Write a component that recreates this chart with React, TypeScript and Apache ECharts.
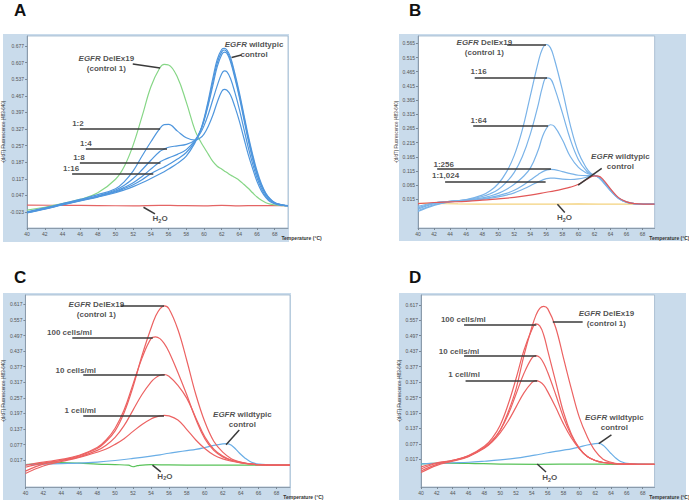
import React, { useEffect, useRef } from 'react';
import * as echarts from 'echarts';

// ---------- tick labels ----------
const xTicks = [40, 42, 44, 46, 48, 50, 52, 54, 56, 58, 60, 62, 64, 66, 68];
const yTicksA = [-0.023, 0.047, 0.117, 0.187, 0.257, 0.327, 0.397, 0.467, 0.537, 0.607, 0.677];
const yTicksB = [0.015, 0.065, 0.115, 0.165, 0.215, 0.265, 0.315, 0.365, 0.415, 0.465, 0.515, 0.565];
const yTicksCD = [0.017, 0.077, 0.137, 0.197, 0.257, 0.317, 0.377, 0.437, 0.497, 0.557, 0.617];

// ---------- panel A ----------
const tempsA = [40, 42, 44, 46, 48, 50, 51, 52, 53, 54, 55, 55.5, 56, 57, 58, 59, 59.6, 60, 60.5, 61, 61.5, 62, 62.3, 62.6, 63, 63.5, 64, 64.5, 65, 65.5, 66, 66.5, 67, 67.5, 68, 68.5, 69, 69.5];
const delExA = [-0.015, -0.003, 0.012, 0.03, 0.058, 0.115, 0.17, 0.26, 0.38, 0.505, 0.584, 0.599, 0.597, 0.545, 0.44, 0.32, 0.275, 0.25, 0.22, 0.19, 0.17, 0.158, 0.15, 0.143, 0.133, 0.122, 0.11, 0.094, 0.077, 0.058, 0.04, 0.026, 0.016, 0.01, 0.007, 0.005, 0.004, 0.004];
const dil2A = [-0.022, -0.006, 0.012, 0.03, 0.05, 0.075, 0.105, 0.15, 0.213, 0.273, 0.328, 0.345, 0.346, 0.318, 0.29, 0.28, 0.29, 0.305, 0.34, 0.385, 0.44, 0.485, 0.494, 0.49, 0.47, 0.42, 0.36, 0.29, 0.22, 0.16, 0.105, 0.065, 0.038, 0.02, 0.012, 0.007, 0.005, 0.004];
const dil4A = [-0.024, -0.008, 0.01, 0.027, 0.045, 0.07, 0.09, 0.118, 0.155, 0.195, 0.232, 0.242, 0.25, 0.256, 0.262, 0.28, 0.31, 0.34, 0.39, 0.45, 0.51, 0.56, 0.572, 0.568, 0.54, 0.48, 0.41, 0.33, 0.25, 0.18, 0.12, 0.075, 0.043, 0.024, 0.013, 0.008, 0.005, 0.004];
const dil8A = [-0.025, -0.009, 0.009, 0.026, 0.043, 0.065, 0.081, 0.1, 0.127, 0.158, 0.188, 0.197, 0.205, 0.22, 0.24, 0.28, 0.32, 0.36, 0.43, 0.51, 0.59, 0.64, 0.651, 0.645, 0.61, 0.54, 0.46, 0.37, 0.28, 0.2, 0.135, 0.085, 0.05, 0.028, 0.015, 0.009, 0.005, 0.004];
const dil16A = [-0.026, -0.01, 0.008, 0.025, 0.042, 0.062, 0.076, 0.092, 0.113, 0.138, 0.158, 0.167, 0.177, 0.2, 0.228, 0.275, 0.32, 0.365, 0.44, 0.525, 0.605, 0.652, 0.66, 0.652, 0.62, 0.55, 0.47, 0.38, 0.29, 0.21, 0.14, 0.09, 0.053, 0.03, 0.016, 0.009, 0.005, 0.004];
const wildA = [-0.027, -0.011, 0.007, 0.024, 0.04, 0.058, 0.07, 0.084, 0.1, 0.118, 0.137, 0.147, 0.158, 0.182, 0.213, 0.27, 0.32, 0.37, 0.45, 0.54, 0.62, 0.662, 0.667, 0.66, 0.63, 0.56, 0.48, 0.39, 0.3, 0.22, 0.15, 0.095, 0.056, 0.032, 0.017, 0.01, 0.006, 0.004];
const tempsH2oA = [40, 44, 48, 52, 55, 57, 60, 62, 64, 66, 69.5];
const h2oA = [0.006, 0.005, 0.004, 0.003, 0.005, 0.004, 0.003, 0.005, 0.003, 0.004, 0.004];

// ---------- panel B ----------
const tempsB = [40, 42, 44, 46, 48, 49, 50, 51, 52, 53, 54, 55, 55.5, 56, 56.5, 57, 58, 59, 60, 61, 61.5, 62, 62.5, 63, 64, 65, 66, 67, 68, 69.5];
const delExB = [-0.02, 0.0, 0.008, 0.014, 0.03, 0.045, 0.07, 0.11, 0.17, 0.26, 0.38, 0.5, 0.545, 0.561, 0.55, 0.51, 0.4, 0.275, 0.18, 0.125, 0.108, 0.1, 0.092, 0.078, 0.045, 0.018, 0.004, -0.001, -0.002, -0.002];
const dil16B = [-0.01, 0.003, 0.008, 0.013, 0.025, 0.035, 0.05, 0.075, 0.11, 0.165, 0.245, 0.35, 0.41, 0.443, 0.44, 0.41, 0.32, 0.225, 0.155, 0.115, 0.105, 0.1, 0.093, 0.08, 0.047, 0.019, 0.005, 0.0, -0.002, -0.002];
const dil64B = [-0.015, 0.002, 0.008, 0.012, 0.02, 0.027, 0.036, 0.05, 0.068, 0.092, 0.125, 0.19, 0.235, 0.265, 0.278, 0.272, 0.225, 0.165, 0.128, 0.108, 0.103, 0.1, 0.094, 0.082, 0.048, 0.019, 0.005, 0.0, -0.002, -0.002];
const dil256B = [-0.025, -0.004, 0.007, 0.011, 0.017, 0.022, 0.028, 0.036, 0.047, 0.063, 0.083, 0.103, 0.112, 0.118, 0.121, 0.12, 0.113, 0.106, 0.1, 0.099, 0.099, 0.099, 0.094, 0.082, 0.048, 0.019, 0.005, 0.0, -0.002, -0.002];
const dil1024B = [-0.028, -0.006, 0.006, 0.01, 0.015, 0.019, 0.024, 0.03, 0.038, 0.05, 0.063, 0.077, 0.083, 0.088, 0.09, 0.09, 0.086, 0.085, 0.087, 0.093, 0.097, 0.099, 0.095, 0.083, 0.049, 0.02, 0.006, 0.0, -0.002, -0.002];
const tempsWildB = [40, 42, 44, 46, 48, 50, 52, 54, 56, 57, 58, 59, 60, 61, 62, 62.5, 63, 64, 65, 66, 67, 69.5];
const wildB = [0.0, 0.004, 0.006, 0.008, 0.012, 0.017, 0.022, 0.03, 0.04, 0.045, 0.051, 0.058, 0.068, 0.085, 0.098, 0.097, 0.087, 0.052, 0.021, 0.006, 0.0, -0.002];
const tempsH2oB = [40, 45, 50, 55, 60, 65, 69.5];
const h2oB = [0.001, -0.001, -0.002, -0.002, -0.001, -0.002, -0.002];

// ---------- panel C ----------
const tempsC = [40, 42, 44, 46, 48, 49, 50, 51, 52, 53, 54, 54.5, 55, 55.5, 56, 57, 58, 59, 60, 61, 62, 63, 64, 65, 66, 68, 69.5];
const delExC = [-0.01, 0.006, 0.017, 0.034, 0.062, 0.09, 0.13, 0.2, 0.3, 0.42, 0.525, 0.57, 0.6, 0.611, 0.6, 0.52, 0.4, 0.27, 0.165, 0.09, 0.048, 0.022, 0.01, 0.003, 0.0, -0.002, -0.002];
const cells100C = [-0.002, 0.01, 0.02, 0.036, 0.066, 0.095, 0.14, 0.21, 0.31, 0.41, 0.485, 0.492, 0.485, 0.465, 0.435, 0.355, 0.268, 0.175, 0.1, 0.055, 0.03, 0.016, 0.008, 0.003, 0.0, -0.002, -0.002];
const cells10C = [-0.025, 0.002, 0.015, 0.03, 0.055, 0.075, 0.105, 0.15, 0.21, 0.27, 0.318, 0.334, 0.344, 0.347, 0.34, 0.305, 0.255, 0.18, 0.107, 0.06, 0.033, 0.017, 0.009, 0.003, 0.0, -0.002, -0.002];
const cells1C = [-0.034, -0.005, 0.012, 0.028, 0.048, 0.06, 0.078, 0.1, 0.128, 0.155, 0.176, 0.183, 0.188, 0.19, 0.188, 0.172, 0.135, 0.095, 0.062, 0.037, 0.022, 0.013, 0.007, 0.003, 0.0, -0.002, -0.002];
const tempsWildCD = [40, 42, 44, 46, 48, 50, 52, 54, 55, 56, 57, 58, 59, 60, 61, 62, 62.5, 63, 63.5, 64, 64.5, 65, 65.5, 66, 67, 69.5];
const wildC = [0.0, 0.002, 0.004, 0.006, 0.01, 0.016, 0.024, 0.033, 0.038, 0.044, 0.049, 0.054, 0.059, 0.066, 0.074, 0.08, 0.081, 0.074, 0.058, 0.04, 0.025, 0.013, 0.006, 0.002, 0.0, -0.002];
const tempsH2oC = [40, 44, 46, 48, 50, 51.5, 52, 52.5, 54, 56, 60, 65, 69.5];
const h2oC = [0.0, 0.008, 0.006, 0.002, 0.0, -0.002, -0.008, -0.004, 0.0, -0.001, -0.002, -0.002, -0.002];

// ---------- panel D ----------
const tempsD = [40, 42, 44, 46, 48, 49, 50, 51, 52, 53, 54, 54.5, 55, 55.5, 56, 57, 58, 59, 60, 61, 62, 63, 64, 65, 66, 68, 69.5];
const delExD = [-0.012, 0.004, 0.013, 0.03, 0.063, 0.09, 0.13, 0.2, 0.29, 0.42, 0.53, 0.575, 0.603, 0.611, 0.602, 0.53, 0.41, 0.29, 0.18, 0.105, 0.05, 0.018, 0.006, 0.0, -0.001, -0.002, -0.002];
const cells100D = [-0.02, 0.002, 0.013, 0.032, 0.068, 0.1, 0.15, 0.23, 0.33, 0.44, 0.52, 0.543, 0.535, 0.5, 0.44, 0.32, 0.2, 0.115, 0.06, 0.028, 0.013, 0.005, 0.002, 0.0, -0.001, -0.002, -0.002];
const cells10D = [-0.028, -0.002, 0.012, 0.03, 0.063, 0.09, 0.13, 0.19, 0.27, 0.35, 0.41, 0.42, 0.413, 0.39, 0.355, 0.27, 0.18, 0.11, 0.06, 0.028, 0.013, 0.005, 0.002, 0.0, -0.001, -0.002, -0.002];
const cells1D = [-0.034, -0.006, 0.01, 0.028, 0.06, 0.085, 0.12, 0.165, 0.22, 0.275, 0.315, 0.323, 0.318, 0.305, 0.28, 0.22, 0.155, 0.1, 0.058, 0.028, 0.013, 0.005, 0.002, 0.0, -0.001, -0.002, -0.002];
const wildD = [0.0, 0.002, 0.004, 0.006, 0.01, 0.015, 0.022, 0.032, 0.037, 0.043, 0.048, 0.053, 0.058, 0.065, 0.073, 0.078, 0.079, 0.072, 0.057, 0.04, 0.025, 0.013, 0.006, 0.002, 0.0, -0.002];
const tempsH2oD = [40, 43, 46, 50, 55, 60, 65, 69.5];
const h2oD = [0.0, 0.003, 0.002, -0.001, -0.002, -0.001, -0.002, -0.002];

// ---------- annotations (text anchors and leader lines, in data units) ----------
const DEL = '{i|EGFR} DelEx19\n(control 1)';
const WT = '{i|EGFR} wildtypic\ncontrol';
const H2O = 'H{s|2}O';

const labelsA = [
  { text: DEL, at: [48.96, 0.601] },
  { text: WT, at: [65.66, 0.66] },
  { text: '1:2', at: [45.75, 0.352] },
  { text: '1:4', at: [46.64, 0.266] },
  { text: '1:8', at: [45.86, 0.207] },
  { text: '1:16', at: [44.98, 0.16] },
  { text: H2O, at: [55.04, -0.0525] },
];
const leadersA = [
  [[51.95, 0.601], [55.04, 0.584]],
  [[63.12, 0.628], [64.23, 0.639]],
  [[45.97, 0.328], [55.04, 0.328]],
  [[46.64, 0.244], [55.82, 0.244]],
  [[45.97, 0.186], [55.08, 0.186]],
  [[45.09, 0.139], [54.27, 0.139]],
  [[53.16, -0.003], [54.46, -0.031]],
];
const labelsB = [
  { text: DEL, at: [48.27, 0.552] },
  { text: '1:16', at: [47.55, 0.465] },
  { text: '1:64', at: [47.55, 0.294] },
  { text: '1:256', at: [43.2, 0.139] },
  { text: '1:1,024', at: [43.43, 0.098] },
  { text: WT, at: [65.23, 0.147] },
  { text: H2O, at: [58.27, -0.049] },
];
const leadersB = [
  [[51.12, 0.559], [55.95, 0.559]],
  [[47.07, 0.445], [56.09, 0.445]],
  [[46.88, 0.275], [56.2, 0.275]],
  [[42.39, 0.122], [56.57, 0.122]],
  [[43.38, 0.076], [55.91, 0.076]],
  [[59.96, 0.065], [62.9, 0.124]],
  [[57.38, -0.002], [58.3, -0.031]],
];
const labelsC = [
  { text: DEL, at: [47.91, 0.596] },
  { text: '100 cells/ml', at: [44.91, 0.509] },
  { text: '10 cells/ml', at: [45.62, 0.363] },
  { text: '1 cell/ml', at: [46.11, 0.208] },
  { text: WT, at: [64.19, 0.172] },
  { text: H2O, at: [55.55, -0.045] },
];
const leadersC = [
  [[50.6, 0.611], [55.46, 0.611]],
  [[45.23, 0.49], [54.2, 0.49]],
  [[46.45, 0.345], [55.53, 0.345]],
  [[46.45, 0.188], [55.45, 0.188]],
  [[62.37, 0.077], [63.84, 0.133]],
  [[54.17, -0.002], [55.09, -0.028]],
];
const labelsD = [
  { text: '100 cells/ml', at: [45.35, 0.561] },
  { text: '10 cells/ml', at: [44.8, 0.434] },
  { text: '1 cell/ml', at: [45.44, 0.346] },
  { text: DEL, at: [63.42, 0.564] },
  { text: WT, at: [64.42, 0.16] },
  { text: H2O, at: [56.26, -0.054] },
];
const leadersD = [
  [[45.44, 0.541], [54.57, 0.541]],
  [[45.44, 0.42], [54.57, 0.42]],
  [[45.63, 0.323], [54.68, 0.323]],
  [[56.65, 0.552], [60.42, 0.552]],
  [[62.45, 0.078], [64.05, 0.112]],
  [[54.68, -0.001], [55.79, -0.032]],
];

const FONT = '"Liberation Sans", Arial, Helvetica, sans-serif';
const FRAME = '#c9dbeb';
const Y_TITLE = '-(d/dT) Fluorescence (483-640)';

function curve(name: string, temps: number[], values: number[], color: string, g: number, width = 1.2, z = 2) {
  return {
    type: 'line', name, xAxisIndex: g, yAxisIndex: g, silent: true,
    data: temps.map((t, i) => [t, values[i]]),
    smooth: 0.4, symbol: 'none', z,
    lineStyle: { color, width }, itemStyle: { color },
  };
}

function notes(g: number, labels: { text: string; at: number[] }[], leaders: number[][][]) {
  return {
    type: 'scatter', xAxisIndex: g, yAxisIndex: g, silent: true, symbolSize: 0.1, z: 6,
    itemStyle: { color: 'rgba(0,0,0,0)' },
    data: labels.map((l) => ({ value: l.at, label: { formatter: l.text } })),
    label: {
      show: true, position: 'inside', align: 'center', verticalAlign: 'middle',
      color: '#1e1e1e', fontSize: 8, fontWeight: 'bold', fontFamily: FONT, lineHeight: 10,
      rich: {
        i: { fontStyle: 'italic', fontWeight: 'bold', fontSize: 8, fontFamily: FONT, color: '#1e1e1e', lineHeight: 10 },
        s: { fontSize: 5.5, fontWeight: 'bold', fontFamily: FONT, color: '#1e1e1e', verticalAlign: 'bottom', lineHeight: 7 },
      },
    },
    markLine: {
      silent: true, symbol: ['none', 'none'], label: { show: false },
      lineStyle: { color: '#3a3a3a', width: 1.5, type: 'solid' },
      emphasis: { disabled: true },
      data: leaders.map(([a, b]) => [{ coord: a }, { coord: b }]),
    },
  };
}

const grids = [
  { left: 21, top: 36, width: 267, height: 192 },
  { left: 418, top: 36, width: 267, height: 192 },
  { left: 23, top: 295, width: 267, height: 192 },
  { left: 421, top: 295, width: 265, height: 192 },
];
const yRanges = [[-0.0905, 0.719], [-0.086, 0.591], [-0.086, 0.653], [-0.09, 0.655]];
const yTickSets = [yTicksA, yTicksB, yTicksCD, yTicksCD];

export default function App() {
  const ref = useRef<HTMLDivElement>(null);
  useEffect(() => {
    document.body.style.margin = '0';
    if (!ref.current) return;
    const chart = echarts.init(ref.current, null, { renderer: 'svg' });
    const blueA = '#4f96dd';
    const blueB = '#7ab3e8';
    const redCD = '#ec6262';
    const option: any = {
      animation: false,
      backgroundColor: '#ffffff',
      grid: grids.map((g) => ({
        ...g, show: true, backgroundColor: '#ffffff', borderColor: '#9fb6cb', borderWidth: 0.8,
      })),
      xAxis: grids.map((_, i) => ({
        type: 'value', gridIndex: i, min: 40, max: 69.5,
        axisLine: { show: true, onZero: false, lineStyle: { color: '#8b9bab', width: 1 } },
        axisTick: { show: true, length: 2, customValues: xTicks, lineStyle: { color: '#7a8794' } },
        axisLabel: { customValues: xTicks, fontSize: 5, color: '#555', margin: 3, fontFamily: FONT },
        splitLine: { show: false },
        name: 'Temperature (°C)', nameLocation: 'end', nameGap: -1,
        nameTextStyle: { fontSize: 5, color: '#333', fontWeight: 'bold', fontFamily: FONT, align: 'right', verticalAlign: 'top', padding: [7, 0, 0, 0] },
      })),
      yAxis: grids.map((_, i) => ({
        type: 'value', gridIndex: i, min: yRanges[i][0], max: yRanges[i][1],
        axisLine: { show: true, onZero: false, lineStyle: { color: '#8b9bab', width: 1 } },
        axisTick: { show: true, length: 2, customValues: yTickSets[i], lineStyle: { color: '#7a8794' } },
        axisLabel: { customValues: yTickSets[i], formatter: (v: number) => v.toFixed(3), fontSize: 5, color: '#555', margin: 3, fontFamily: FONT },
        splitLine: { show: false },
        name: Y_TITLE, nameLocation: 'middle', nameGap: 13,
        nameTextStyle: { fontSize: 4.5, color: '#333', fontFamily: FONT },
      })),
      graphic: [
        { type: 'rect', z: -10, silent: true, shape: { x: 3, y: 34, width: 286, height: 208 }, style: { fill: FRAME } },
        { type: 'rect', z: -10, silent: true, shape: { x: 399, y: 34, width: 287, height: 207 }, style: { fill: FRAME } },
        { type: 'rect', z: -10, silent: true, shape: { x: 3, y: 293, width: 288, height: 207 }, style: { fill: FRAME } },
        { type: 'rect', z: -10, silent: true, shape: { x: 399, y: 293, width: 287, height: 207 }, style: { fill: FRAME } },
        { type: 'text', left: 14, top: 2, style: { text: 'A', fontSize: 17, fontWeight: 'bold', fontFamily: FONT, fill: '#111' } },
        { type: 'text', left: 409, top: 2, style: { text: 'B', fontSize: 17, fontWeight: 'bold', fontFamily: FONT, fill: '#111' } },
        { type: 'text', left: 14, top: 269, style: { text: 'C', fontSize: 17, fontWeight: 'bold', fontFamily: FONT, fill: '#111' } },
        { type: 'text', left: 409, top: 269, style: { text: 'D', fontSize: 17, fontWeight: 'bold', fontFamily: FONT, fill: '#111' } },
      ],
      series: [
        // A
        curve('H2O', tempsH2oA, h2oA, '#e46464', 0),
        curve('EGFR DelEx19 (control 1)', tempsA, delExA, '#86d686', 0),
        curve('1:2', tempsA, dil2A, blueA, 0),
        curve('1:4', tempsA, dil4A, blueA, 0),
        curve('1:8', tempsA, dil8A, blueA, 0),
        curve('1:16', tempsA, dil16A, blueA, 0),
        curve('EGFR wildtypic control', tempsA, wildA, blueA, 0),
        notes(0, labelsA, leadersA),
        // B
        curve('H2O', tempsH2oB, h2oB, '#f3d27e', 1),
        curve('EGFR DelEx19 (control 1)', tempsB, delExB, blueB, 1),
        curve('1:16', tempsB, dil16B, blueB, 1),
        curve('1:64', tempsB, dil64B, blueB, 1),
        curve('1:256', tempsB, dil256B, blueB, 1),
        curve('1:1,024', tempsB, dil1024B, blueB, 1),
        curve('EGFR wildtypic control', tempsWildB, wildB, '#e25858', 1, 1.2, 3),
        notes(1, labelsB, leadersB),
        // C
        curve('H2O', tempsH2oC, h2oC, '#58c258', 2),
        curve('EGFR wildtypic control', tempsWildCD, wildC, '#6aaee6', 2),
        curve('EGFR DelEx19 (control 1)', tempsC, delExC, redCD, 2),
        curve('100 cells/ml', tempsC, cells100C, redCD, 2),
        curve('10 cells/ml', tempsC, cells10C, redCD, 2),
        curve('1 cell/ml', tempsC, cells1C, redCD, 2),
        notes(2, labelsC, leadersC),
        // D
        curve('H2O', tempsH2oD, h2oD, '#58c258', 3),
        curve('EGFR wildtypic control', tempsWildCD, wildD, '#6aaee6', 3),
        curve('EGFR DelEx19 (control 1)', tempsD, delExD, redCD, 3),
        curve('100 cells/ml', tempsD, cells100D, redCD, 3),
        curve('10 cells/ml', tempsD, cells10D, redCD, 3),
        curve('1 cell/ml', tempsD, cells1D, redCD, 3),
        notes(3, labelsD, leadersD),
      ],
    };
    chart.setOption(option);
    return () => chart.dispose();
  }, []);
  return <div ref={ref} style={{ width: 689, height: 504 }} />;
}
